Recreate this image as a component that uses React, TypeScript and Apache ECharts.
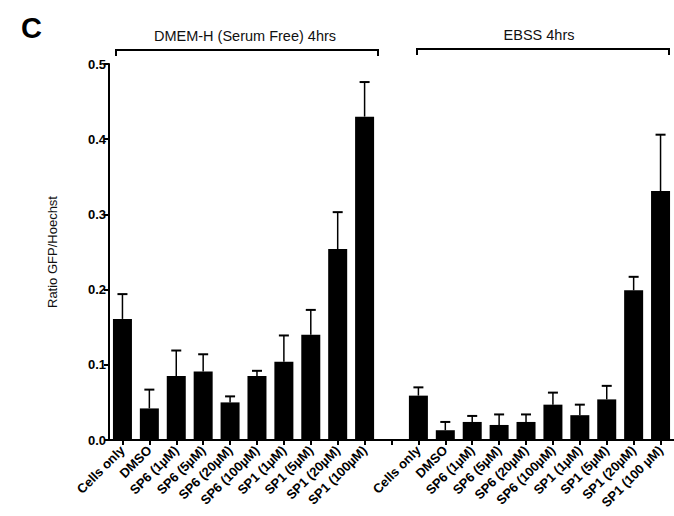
import React, { useEffect, useRef } from "react";
import * as echarts from "echarts";

const treatments = [
  "Cells only",
  "DMSO",
  "SP6 (1µM)",
  "SP6 (5µM)",
  "SP6 (20µM)",
  "SP6 (100µM)",
  "SP1 (1µM)",
  "SP1 (5µM)",
  "SP1 (20µM)",
  "SP1 (100µM)",
];
const ebssLabels = [
  "Cells only",
  "DMSO",
  "SP6 (1µM)",
  "SP6 (5µM)",
  "SP6 (20µM)",
  "SP6 (100µM)",
  "SP1 (1µM)",
  "SP1 (5µM)",
  "SP1 (20µM)",
  "SP1 (100 µM)",
];
const dmemMeans = [0.161, 0.042, 0.085, 0.091, 0.05, 0.085, 0.104, 0.14, 0.254, 0.43];
const dmemErrTop = [0.194, 0.067, 0.119, 0.114, 0.058, 0.092, 0.139, 0.173, 0.303, 0.476];
const ebssMeans = [0.059, 0.013, 0.024, 0.02, 0.024, 0.047, 0.033, 0.054, 0.199, 0.331];
const ebssErrTop = [0.07, 0.024, 0.032, 0.034, 0.034, 0.063, 0.047, 0.072, 0.217, 0.406];
const yTicks = [0, 0.1, 0.2, 0.3, 0.4, 0.5];

const groupTitles = ["DMEM-H (Serum Free) 4hrs", "EBSS 4hrs"];

const FONT = "'Liberation Sans', Arial, Helvetica, sans-serif";

export default function App() {
  const ref = useRef<HTMLDivElement>(null);

  useEffect(() => {
    if (!ref.current) return;
    const chart = echarts.init(ref.current, null, { renderer: "svg" });

    const categories = [...treatments, "", ...ebssLabels];
    const means: (number | null)[] = [...dmemMeans, null, ...ebssMeans];
    const tops: (number | null)[] = [...dmemErrTop, null, ...ebssErrTop];
    const errData: any[] = [];
    means.forEach((m, i) => {
      if (m !== null && tops[i] !== null) errData.push([i, m, tops[i]]);
    });

    chart.setOption({
      animation: false,
      backgroundColor: "#ffffff",
      grid: { left: 109, top: 64, width: 566, bottom: 76, containLabel: false },
      xAxis: {
        type: "category",
        data: categories,
        axisLine: { show: true, lineStyle: { color: "#000", width: 2 } },
        axisTick: { show: true, alignWithLabel: true, length: 5, lineStyle: { color: "#000", width: 2 } },
        axisLabel: {
          interval: 0,
          rotate: 45,
          fontFamily: FONT,
          fontWeight: "bold",
          fontSize: 13,
          color: "#000",
          margin: 8,
        },
        splitLine: { show: false },
      },
      yAxis: {
        type: "value",
        min: yTicks[0],
        max: yTicks[yTicks.length - 1],
        interval: 0.1,
        name: "Ratio GFP/Hoechst",
        nameLocation: "middle",
        nameGap: 50,
        nameRotate: 90,
        nameTextStyle: { fontFamily: FONT, fontSize: 13, color: "#111" },
        axisLine: { show: true, lineStyle: { color: "#000", width: 2 } },
        axisTick: { show: true, length: 5, lineStyle: { color: "#000", width: 2 } },
        axisLabel: {
          fontFamily: FONT,
          fontWeight: "bold",
          fontSize: 13,
          color: "#000",
          margin: 3,
          formatter: (v: number) => v.toFixed(1),
        },
        splitLine: { show: false },
      },
      series: [
        {
          type: "bar",
          data: means,
          barWidth: 19,
          itemStyle: { color: "#000" },
          z: 2,
        },
        {
          type: "custom",
          data: errData,
          z: 3,
          renderItem: (params: any, api: any) => {
            const x = api.value(0);
            const m = api.value(1);
            const t = api.value(2);
            const p0 = api.coord([x, m]);
            const p1 = api.coord([x, t]);
            const hw = 5;
            return {
              type: "group",
              children: [
                {
                  type: "line",
                  shape: { x1: p0[0], y1: p0[1], x2: p1[0], y2: p1[1] },
                  style: { stroke: "#000", lineWidth: 1.5 },
                },
                {
                  type: "line",
                  shape: { x1: p1[0] - hw, y1: p1[1], x2: p1[0] + hw, y2: p1[1] },
                  style: { stroke: "#000", lineWidth: 2 },
                },
              ],
            };
          },
        },
      ],
      graphic: [
        {
          type: "text",
          x: 21,
          y: 28,
          style: { text: "C", font: `bold 29px ${FONT}`, fill: "#000", textVerticalAlign: "middle" },
        },
        {
          type: "text",
          x: 245,
          y: 36,
          style: {
            text: groupTitles[0],
            font: `14.5px ${FONT}`,
            fill: "#111",
            textAlign: "center",
            textVerticalAlign: "middle",
          },
        },
        {
          type: "polyline",
          shape: { points: [[116, 56], [116, 50], [378, 50], [378, 56]] },
          style: { stroke: "#000", lineWidth: 2, fill: "none" },
        },
        {
          type: "text",
          x: 539,
          y: 35,
          style: {
            text: groupTitles[1],
            font: `14.5px ${FONT}`,
            fill: "#111",
            textAlign: "center",
            textVerticalAlign: "middle",
          },
        },
        {
          type: "polyline",
          shape: { points: [[417, 55], [417, 49], [669, 49], [669, 55]] },
          style: { stroke: "#000", lineWidth: 2, fill: "none" },
        },
      ],
    });

    return () => chart.dispose();
  }, []);

  return <div ref={ref} style={{ width: 674, height: 516, position: "absolute", left: 0, top: 0 }} />;
}
